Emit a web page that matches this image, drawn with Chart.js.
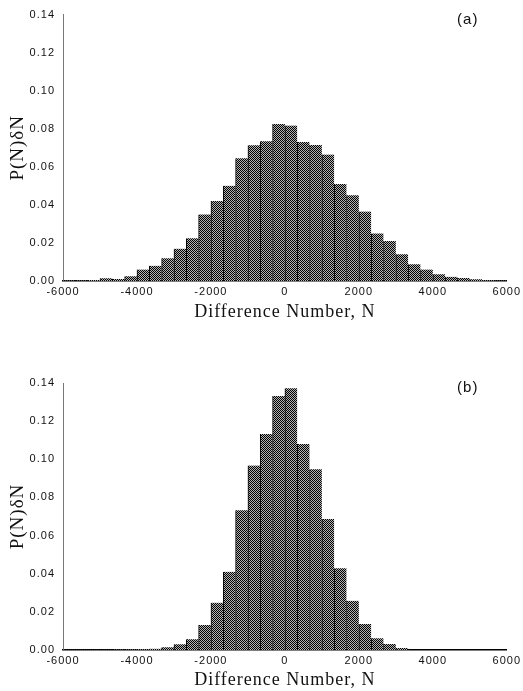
<!DOCTYPE html>
<html><head><meta charset="utf-8">
<script src="https://cdn.jsdelivr.net/npm/chart.js@4/dist/chart.umd.min.js"></script>
<style>
html,body{margin:0;padding:0;background:#fff;}
#wrap{position:relative;width:523px;height:691px;overflow:hidden;background:#fff;}
canvas{position:absolute;left:0;}
#ca{top:0;} #cb{top:320px;}
</style></head><body>
<div id="wrap"><canvas id="ca" width="523" height="323"></canvas><canvas id="cb" width="523" height="371"></canvas></div>
<script>
// Bin centres (bin width ~333 in N)
const binCenters = [-5833,-5500,-5167,-4833,-4500,-4167,-3833,-3500,-3167,-2833,-2500,-2167,
  -1833,-1500,-1167,-833,-500,-167,167,500,833,1167,1500,1833,
  2167,2500,2833,3167,3500,3833,4167,4500,4833,5167,5500,5833];
// Panel (a)
const probA = [0.0003,0.0003,0.0005,0.0015,0.0011,0.0025,0.0060,0.0080,0.0120,0.0170,0.0225,0.0350,
  0.0420,0.0500,0.0645,0.0713,0.0735,0.0825,0.0817,0.0730,0.0715,0.0665,0.0510,0.0450,
  0.0365,0.0250,0.0210,0.0140,0.0088,0.0060,0.0035,0.0022,0.0016,0.0009,0.0004,0.0002];
// Panel (b)
const probB = [0.0001,0.0001,0.0001,0.0001,0.0002,0.0003,0.0004,0.0007,0.0014,0.0030,0.0056,0.0131,
  0.0248,0.0410,0.0733,0.0967,0.1133,0.1332,0.1372,0.1080,0.0948,0.0687,0.0429,0.0258,
  0.0136,0.0061,0.0031,0.0010,0,0,0,0,0,0,0,0];
const xTickValues = [-6000,-4000,-2000,0,2000,4000,6000];
const yTickValues = [0,0.02,0.04,0.06,0.08,0.10,0.12,0.14];
const panelLabels = ['(a)','(b)'];
const xTitle = 'Difference Number, N';
const yTitle = 'P(N)\u03B4N';

function makePattern(){
  const c = document.createElement('canvas');
  c.width = 2; c.height = 2;
  const g = c.getContext('2d');
  g.fillStyle = '#b4b4b4'; g.fillRect(0,0,2,2);
  g.fillStyle = '#000000'; g.fillRect(0,0,1,1); g.fillRect(1,1,1,1);
  return g.createPattern(c,'repeat');
}

const spacingPlugin = {
  id:'spacing',
  beforeDraw(chart){ chart.ctx.letterSpacing = '1px'; }
};
const labelPlugin = {
  id:'panelLabel',
  afterDraw(chart, args, opts){
    const ctx = chart.ctx, a = chart.chartArea;
    ctx.save();
    ctx.letterSpacing = '1px';
    ctx.font = '15px "Liberation Sans", Arial, sans-serif';
    ctx.fillStyle = '#111';
    ctx.textAlign = 'center';
    ctx.textBaseline = 'middle';
    ctx.fillText(opts.text, a.right - 39, a.top + 5);
    ctx.restore();
  }
};

function build(id, values, label, topPad, xHeight){
  const ctx = document.getElementById(id).getContext('2d');
  const pattern = makePattern();
  return new Chart(ctx, {
    type:'bar',
    data:{ datasets:[{
      data: binCenters.map((x,i)=>({x, y: values[i]})),
      backgroundColor: pattern,
      borderColor:'#000',
      borderWidth:{left:1,right:0,top:0,bottom:0},
      borderSkipped:false,
      barPercentage:1, categoryPercentage:1
    }]},
    options:{
      responsive:false, animation:false, devicePixelRatio:1,
      layout:{padding:{top:topPad,left:0,right:16,bottom:0}},
      plugins:{legend:{display:false}, tooltip:{enabled:false}, panelLabel:{text:label}},
      scales:{
        x:{
          type:'linear', min:-6000, max:6000, offset:false,
          afterBuildTicks(s){ s.ticks = xTickValues.map(v=>({value:v})); },
          afterFit(s){ s.height = xHeight; },
          grid:{display:false, drawTicks:false},
          border:{display:true, color:'#000', width:1.5},
          ticks:{padding:4, maxRotation:0, autoSkip:false, color:'#111',
            callback:v=>String(v),
            font:{family:'"Liberation Sans", Arial, sans-serif', size:11}},
          title:{display:true, text:xTitle, color:'#111', padding:{top:0,bottom:0},
            font:{family:'"Liberation Serif", "Times New Roman", serif', size:18}}
        },
        y:{
          min:0, max:0.14,
          afterBuildTicks(s){ s.ticks = yTickValues.map(v=>({value:v})); },
          afterFit(s){ s.width = 63; },
          grid:{display:false, drawTicks:false},
          border:{display:true, color:'#777', width:1, dash:[7,2]},
          ticks:{padding:8, color:'#111', callback:v=>Number(v).toFixed(2),
            font:{family:'"Liberation Sans", Arial, sans-serif', size:11}},
          title:{display:true, text:yTitle, color:'#111', padding:{top:7,bottom:0},
            font:{family:'"Liberation Serif", "Times New Roman", serif', size:19}}
        }
      }
    },
    plugins:[spacingPlugin, labelPlugin]
  });
}
build('ca', probA, panelLabels[0], 13, 42);
build('cb', probB, panelLabels[1], 63, 41);
</script>
</body></html>
